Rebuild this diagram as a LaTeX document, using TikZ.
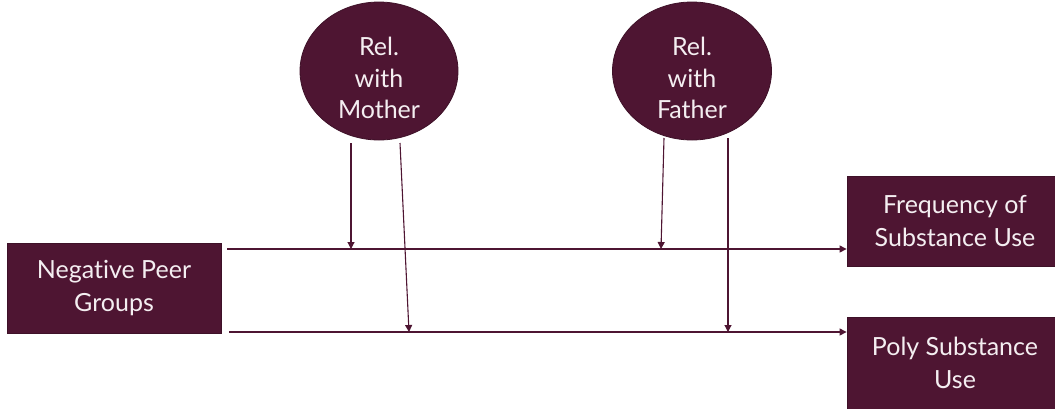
\documentclass[tikz,border=0pt]{standalone}
\usepackage{fontspec}
\setmainfont{Lato}[Ligatures=NoCommon]
\usetikzlibrary{shapes.geometric,arrows.meta}
\definecolor{maroon}{HTML}{4E1532}
\definecolor{paletext}{HTML}{F4EEF1}
\tikzset{
  every picture/.style={x=1pt,y=-1pt},
  labeltext/.style={text=paletext,align=center,font=\fontsize{25}{31.5}\selectfont,inner sep=0pt},
  box/.style={draw=maroon!80!black,line width=0.8pt,fill=maroon,labeltext,
    font=\fontsize{25}{32.5}\selectfont},
  oval/.style={ellipse,draw=maroon!80!black,line width=0.8pt,fill=maroon,inner sep=0pt},
  link/.style={draw=maroon,line width=1.1pt,-{Triangle[length=7pt,width=7pt]}}
}
\begin{document}
\begin{tikzpicture}
\useasboundingbox (0,0) rectangle (1055,408);
\clip (0,0) rectangle (1055,408);

% factor boxes
\node[box,minimum width=214pt,minimum height=90pt] (peer) at (114,288) {Negative Peer\\Groups};
\node[box,minimum width=216pt,minimum height=90pt] (freq) at (955,221) {Frequency of\\Substance Use};
\node[box,minimum width=216pt,minimum height=92pt] (poly) at (955,363) {Poly Substance\\Use};

% moderators
\node[oval,minimum width=158pt,minimum height=138pt,
  label={[labeltext,yshift=-7pt]center:{Rel.\\with\\Mother}}] (mom) at (379,71) {};
\node[oval,minimum width=159pt,minimum height=138pt,
  label={[labeltext,yshift=-7pt]center:{Rel.\\with\\Father}}] (dad) at (692,71) {};

% start and meeting points of the paths
\coordinate (p1) at (227,249);
\coordinate (p2) at (229,332);
\coordinate (m1) at (351,249);
\coordinate (m2) at (409,332);
\coordinate (f1) at (661,249);
\coordinate (f2) at (728,332);

% main paths
\draw[link] (p1) -- (p1 -| freq.west);
\draw[link] (p2) -- (p2 -| poly.west);

% moderation paths
\draw[link] (351,143) -- (m1);
\draw[link] (400,143) -- (m2);
\draw[link] (664,138) -- (f1);
\draw[link] (728,138) -- (f2);
\end{tikzpicture}
\end{document}
